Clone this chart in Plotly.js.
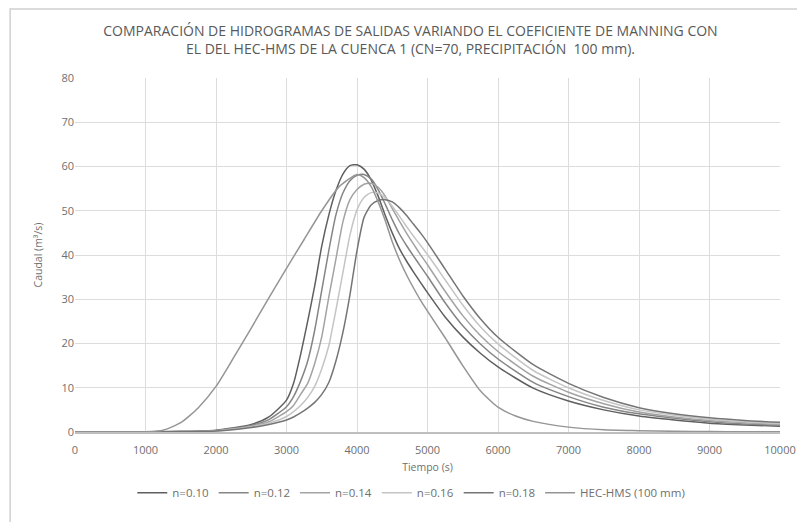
<!DOCTYPE html>
<html>
<head>
<meta charset="utf-8">
<script src="https://cdn.plot.ly/plotly-3.0.1.min.js"></script>
<style>html,body{margin:0;padding:0;background:#fff;}#chart{width:797px;height:522px;}</style>
</head>
<body>
<div id="chart"></div>
<script>
// Time (s) for Manning-n series
const tiempo = [0, 1000, 1500, 2000, 2500, 2750, 3000, 3100, 3200, 3300, 3400, 3500, 3600, 3700, 3800, 3900, 4000, 4100, 4200, 4300, 4400, 4500, 4600, 4700, 4800, 4900, 5000, 5250, 5500, 5750, 6000, 6500, 7000, 7500, 8000, 8500, 9000, 9500, 10000];
const n010 = [0, 0, 0.1, 0.4, 1.7, 3.4, 7.2, 11, 17.5, 25, 33, 42, 49, 54.5, 58.3, 60.2, 60.4, 59.4, 57, 53.3, 49, 45, 41.5, 38.7, 36.2, 33.8, 31.5, 26, 21.5, 17.8, 14.7, 9.9, 7, 5, 3.6, 2.7, 2, 1.6, 1.3];
const n012 = [0, 0, 0.1, 0.35, 1.5, 2.8, 5.7, 8, 11.5, 16, 23, 32, 41, 49, 54, 56.8, 58, 58.2, 57.2, 54.8, 51.5, 48, 44.8, 42.2, 39.8, 37.5, 35.2, 29.2, 24, 19.9, 16.5, 11.2, 8, 5.6, 4.1, 3.1, 2.3, 1.8, 1.5];
const n014 = [0, 0, 0.1, 0.3, 1.3, 2.3, 4.6, 6, 8.5, 11, 15.5, 21.5, 30.5, 39, 47.5, 52.5, 54.8, 56, 56.2, 55.3, 53.3, 50.5, 47.7, 45, 42.5, 40.1, 37.8, 31.8, 26.3, 21.8, 18.2, 12.6, 9, 6.4, 4.5, 3.4, 2.6, 2.1, 1.7];
const n016 = [0, 0, 0.1, 0.25, 1.2, 2, 3.5, 4.6, 6, 7.8, 10.3, 14.3, 19.5, 27.5, 36, 44.5, 50.2, 53, 54.1, 54, 52.9, 51, 48.8, 46.5, 44.3, 42.2, 40.1, 34.4, 28.7, 23.8, 19.9, 13.9, 10, 7.1, 5, 3.8, 2.9, 2.3, 1.9];
const n018 = [0, 0, 0.1, 0.2, 1, 1.7, 2.7, 3.4, 4.3, 5.4, 6.7, 8.5, 11.2, 16, 22.5, 31, 41, 48.5, 51.3, 52.3, 52.5, 52, 50.7, 49, 47, 45, 42.8, 36.8, 30.8, 25.6, 21.4, 15.2, 11, 7.8, 5.5, 4.1, 3.2, 2.6, 2.2];
// HEC-HMS series
const tiempoHMS = [0, 500, 1000, 1250, 1500, 1750, 2000, 2250, 2500, 2750, 3000, 3250, 3500, 3750, 4000, 4100, 4200, 4300, 4400, 4500, 4600, 4700, 4800, 4900, 5000, 5250, 5500, 5750, 6000, 6250, 6500, 7000, 7500, 8000, 8500, 9000, 9500, 10000];
const hms = [0, 0, 0.05, 0.4, 2.1, 5.5, 10.3, 16.8, 23.5, 30.3, 37, 43.5, 50, 55.5, 58.2, 57.5, 55.5, 52, 47.8, 43, 39, 35.6, 32.6, 29.8, 27.3, 21.3, 15, 9.3, 5.6, 3.6, 2.4, 1.1, 0.5, 0.3, 0.15, 0.1, 0.05, 0.03];

const nombres = ["n=0.10", "n=0.12", "n=0.14", "n=0.16", "n=0.18", "HEC-HMS (100 mm)"];
const colores = ["#5f5f5f", "#858585", "#a3a3a3", "#c4c4c4", "#757575", "#959595"];
const serieY = [n010, n012, n014, n016, n018, hms];
const serieX = [tiempo, tiempo, tiempo, tiempo, tiempo, tiempoHMS];

const font = "'Open Sans', 'Liberation Sans', sans-serif";
const traces = serieY.map((y, i) => ({
  x: serieX[i], y: y, name: nombres[i], type: "scatter", mode: "lines",
  line: {color: colores[i], width: 1.5, shape: "spline", smoothing: 0.6}
}));

const layout = {
  width: 797, height: 522,
  margin: {l: 75, r: 17, t: 78, b: 90},
  paper_bgcolor: "#fff", plot_bgcolor: "#fff",
  font: {family: font, color: "#666", size: 11},
  title: {
    text: "COMPARACIÓN DE HIDROGRAMAS DE SALIDAS VARIANDO EL COEFICIENTE DE MANNING CON<br>EL DEL HEC-HMS DE LA CUENCA 1 (CN=70, PRECIPITACIÓN  100 mm).",
    font: {family: font, size: 14, color: "#595959"},
    x: 0.515, xanchor: "center", y: 0.931, yanchor: "top"
  },
  xaxis: {
    range: [0, 10000], dtick: 1000, tick0: 0, tickformat: "d", automargin: false,
    showgrid: true, gridcolor: "#dcdcdc", gridwidth: 1,
    showline: true, linecolor: "#bfbfbf", linewidth: 1.5,
    zeroline: false, ticks: "", ticklabelstandoff: 7,
    tickfont: {family: font, size: 11, color: "#6f6f6f"},
    title: {text: "Tiempo (s)", font: {family: font, size: 10.5, color: "#6f6f6f"}, standoff: 8}
  },
  yaxis: {
    range: [0, 80], dtick: 10, tick0: 0, automargin: false,
    showgrid: true, gridcolor: "#dcdcdc", gridwidth: 1,
    zeroline: false, showline: false, ticks: "",
    tickfont: {family: font, size: 11, color: "#6f6f6f"},
    title: {text: "Caudal (m³/s)", font: {family: font, size: 10.5, color: "#6f6f6f"}, standoff: 16}
  },
  showlegend: true,
  legend: {
    orientation: "h", x: 0.477, xanchor: "center",
    yref: "container", y: 0.056, yanchor: "middle",
    font: {family: font, size: 11.5, color: "#6f6f6f"},
    itemwidth: 30, traceorder: "normal"
  },
  shapes: [{
    type: "rect", xref: "paper", yref: "paper",
    x0: -0.092, x1: 1.2, y0: -0.4, y1: 1.195,
    line: {color: "#d0d0d0", width: 1.5}, fillcolor: "rgba(0,0,0,0)", layer: "below"
  }]
};

Plotly.newPlot("chart", traces, layout, {displayModeBar: false, staticPlot: true});
</script>
</body>
</html>
